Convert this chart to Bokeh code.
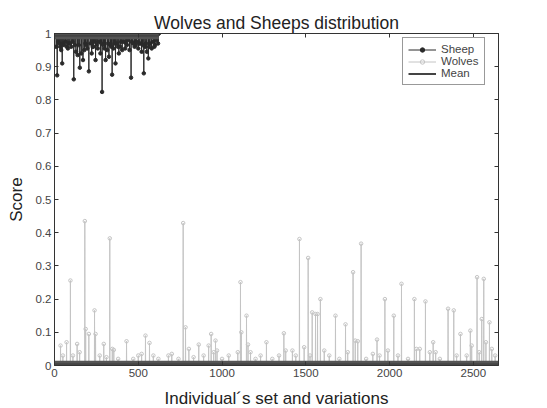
from bokeh.plotting import figure
from bokeh.models import Range1d, LinearAxis, FixedTicker, Legend, LegendItem, ColumnDataSource
from bokeh.embed import file_html
from bokeh.resources import INLINE

# ---- data ----
sheep_count = 623          # individuals 0..622
sheep_base = 1.0
sheep_dip_idx = [10, 16, 22, 28, 34, 40, 46, 52, 58, 66, 74, 80, 86, 92, 100, 108, 115, 122, 128,
                 138, 145, 151, 160, 170, 178, 184, 188, 196, 205, 215, 222, 228, 232, 238, 245,
                 252, 258, 266, 274, 280, 284, 292, 298, 305, 315, 320, 325, 334, 340, 344, 352,
                 358, 364, 372, 378, 384, 392, 398, 404, 414, 422, 428, 432, 440, 448, 457, 462,
                 468, 478, 484, 490, 500, 505, 510, 520, 526, 533, 540, 546, 551, 560, 565, 570,
                 580, 590, 596, 600, 610, 618]
sheep_dip_val = [0.96, 0.874, 0.975, 0.97, 0.96, 0.95, 0.91, 0.97, 0.965, 0.975, 0.96, 0.955,
                 0.97, 0.97, 0.96, 0.975, 0.862, 0.965, 0.945, 0.935, 0.965, 0.897, 0.94, 0.92,
                 0.95, 0.97, 0.965, 0.955, 0.886, 0.97, 0.94, 0.96, 0.96, 0.975, 0.92, 0.965,
                 0.955, 0.975, 0.94, 0.97, 0.824, 0.965, 0.955, 0.92, 0.95, 0.97, 0.93, 0.965,
                 0.96, 0.876, 0.955, 0.97, 0.91, 0.97, 0.96, 0.94, 0.96, 0.975, 0.95, 0.975,
                 0.955, 0.97, 0.965, 0.98, 0.95, 0.867, 0.975, 0.97, 0.96, 0.965, 0.975, 0.955,
                 0.97, 0.97, 0.945, 0.965, 0.88, 0.96, 0.97, 0.945, 0.925, 0.96, 0.97, 0.955,
                 0.975, 0.96, 0.965, 0.98, 0.97]

wolves_count = 2651        # individuals 0..2650
wolves_base = 0.0
wolves_spike_idx = [36, 50, 72, 95, 110, 135, 150, 181, 186, 205, 239, 245, 270, 294, 310, 330,
                    345, 354, 380, 430, 470, 500, 520, 543, 567, 590, 620, 680, 700, 740, 768,
                    782, 802, 830, 861, 890, 920, 935, 950, 961, 970, 1000, 1040, 1094, 1110,
                    1115, 1146, 1155, 1170, 1200, 1230, 1265, 1300, 1340, 1369, 1380, 1420,
                    1440, 1462, 1490, 1514, 1525, 1538, 1558, 1570, 1587, 1610, 1640, 1677,
                    1700, 1737, 1750, 1782, 1795, 1810, 1830, 1860, 1900, 1925, 1940, 1972,
                    1990, 2025, 2050, 2071, 2110, 2148, 2160, 2180, 2214, 2240, 2260, 2275,
                    2300, 2349, 2383, 2400, 2423, 2460, 2482, 2490, 2522, 2535, 2550, 2562,
                    2575, 2596, 2610, 2630]
wolves_spike_val = [0.06, 0.03, 0.07, 0.256, 0.03, 0.065, 0.04, 0.435, 0.11, 0.095, 0.166, 0.095,
                    0.03, 0.065, 0.025, 0.383, 0.05, 0.047, 0.02, 0.073, 0.02, 0.03, 0.035, 0.09,
                    0.068, 0.03, 0.02, 0.03, 0.035, 0.02, 0.429, 0.115, 0.05, 0.025, 0.063, 0.03,
                    0.06, 0.095, 0.04, 0.075, 0.045, 0.02, 0.03, 0.04, 0.251, 0.1, 0.15, 0.063,
                    0.04, 0.02, 0.03, 0.07, 0.02, 0.03, 0.097, 0.045, 0.045, 0.03, 0.381, 0.055,
                    0.324, 0.03, 0.16, 0.155, 0.155, 0.2, 0.045, 0.03, 0.15, 0.02, 0.124, 0.04,
                    0.281, 0.075, 0.073, 0.367, 0.02, 0.035, 0.078, 0.03, 0.2, 0.045, 0.15, 0.03,
                    0.246, 0.02, 0.2, 0.05, 0.05, 0.193, 0.04, 0.07, 0.04, 0.02, 0.171, 0.166,
                    0.03, 0.095, 0.03, 0.105, 0.06, 0.266, 0.04, 0.14, 0.261, 0.07, 0.13, 0.05,
                    0.03]

x_ticks = [0, 500, 1000, 1500, 2000, 2500]
y_ticks = [0, 0.1, 0.2, 0.3, 0.4, 0.5, 0.6, 0.7, 0.8, 0.9, 1.0]
y_tick_labels = ["0", "0.1", "0.2", "0.3", "0.4", "0.5", "0.6", "0.7", "0.8", "0.9", "1"]

# ---- build series ----
sheep = [sheep_base] * sheep_count
for i, v in zip(sheep_dip_idx, sheep_dip_val):
    sheep[i] = v
wolves = [wolves_base] * wolves_count
for i, v in zip(wolves_spike_idx, wolves_spike_val):
    wolves[i] = v

sheep_src = ColumnDataSource(dict(x=list(range(sheep_count)), y=sheep))
wolves_src = ColumnDataSource(dict(x=list(range(wolves_count)), y=wolves))
mean_src = ColumnDataSource(dict(
    x0=[0, 0],
    x1=[sheep_count - 1, wolves_count - 1],
    y=[sum(sheep) / len(sheep), sum(wolves) / len(wolves)],
))

FONT = "Liberation Sans"

p = figure(frame_width=444, frame_height=332, output_backend="svg", toolbar_location=None,
           x_range=Range1d(0, 2650), y_range=Range1d(0, 1),
           min_border_left=54, min_border_right=49, min_border_top=33, min_border_bottom=43,
           title="Wolves and Sheeps distribution")
p.background_fill_color = "white"
p.border_fill_color = "white"
p.grid.visible = False
p.outline_line_color = "#333333"

p.title.align = "center"
p.title.text_font = FONT
p.title.text_font_size = "17.5px"
p.title.text_font_style = "normal"
p.title.text_color = "#222222"
p.title.standoff = 2

sheep_line = p.line("x", "y", source=sheep_src, line_color="#2a2a2a", line_width=1)
sheep_pts = p.scatter("x", "y", source=sheep_src, size=3.5, marker="circle",
                      line_color="#2a2a2a", fill_color="#2a2a2a")
wolves_line = p.line("x", "y", source=wolves_src, line_color="#c4c4c4", line_width=1)
wolves_pts = p.scatter("x", "y", source=wolves_src, size=3.5, marker="circle",
                       line_color="#c4c4c4", fill_color=None)
mean_band = p.segment(x0="x0", y0="y", x1="x1", y1="y", source=mean_src,
                      line_color="#555555", line_width=7)
mean_r = p.segment(x0="x0", y0="y", x1="x1", y1="y", source=mean_src,
                   line_color="#444444", line_width=2)

for ax in (p.xaxis[0], p.yaxis[0]):
    ax.major_tick_in = 4
    ax.major_tick_out = 0
    ax.minor_tick_line_color = None
    ax.axis_line_color = "#333333"
    ax.major_tick_line_color = "#333333"
    ax.major_label_text_font = FONT
    ax.major_label_text_font_size = "11.5px"
    ax.major_label_text_color = "#444444"
    ax.axis_label_text_font = FONT
    ax.axis_label_text_font_size = "17px"
    ax.axis_label_text_font_style = "normal"
    ax.axis_label_text_color = "#222222"

p.xaxis[0].ticker = FixedTicker(ticks=x_ticks)
p.yaxis[0].ticker = FixedTicker(ticks=y_ticks)
p.yaxis[0].major_label_overrides = {t: l for t, l in zip(y_ticks, y_tick_labels)}
p.xaxis[0].axis_label = "Individual´s set and variations"
p.yaxis[0].axis_label = "Score"
p.xaxis[0].major_label_standoff = 3
p.yaxis[0].major_label_standoff = 3
p.xaxis[0].axis_label_standoff = 9
p.yaxis[0].axis_label_standoff = 7

top = LinearAxis(ticker=FixedTicker(ticks=x_ticks),
                 major_label_overrides={t: "" for t in x_ticks},
                 major_tick_in=4, major_tick_out=0, minor_tick_line_color=None,
                 axis_line_color="#333333", major_tick_line_color="#333333")
right = LinearAxis(ticker=FixedTicker(ticks=y_ticks),
                   major_label_overrides={t: "" for t in y_ticks},
                   major_tick_in=4, major_tick_out=0, minor_tick_line_color=None,
                   axis_line_color="#333333", major_tick_line_color="#333333")
p.add_layout(top, "above")
p.add_layout(right, "right")

legend = Legend(items=[
    LegendItem(label="Sheep", renderers=[sheep_line, sheep_pts]),
    LegendItem(label="Wolves", renderers=[wolves_line, wolves_pts]),
    LegendItem(label="Mean", renderers=[mean_r]),
], location=(348, 280), margin=0, padding=5, spacing=0,
   label_text_font=FONT, label_text_font_size="11.5px", label_text_color="#444444",
   label_height=11, glyph_height=11, glyph_width=28, label_standoff=5,
   border_line_color="#333333", border_line_width=1, background_fill_alpha=1)
p.add_layout(legend, "center")

open("out.html", "w").write(file_html(p, INLINE))
